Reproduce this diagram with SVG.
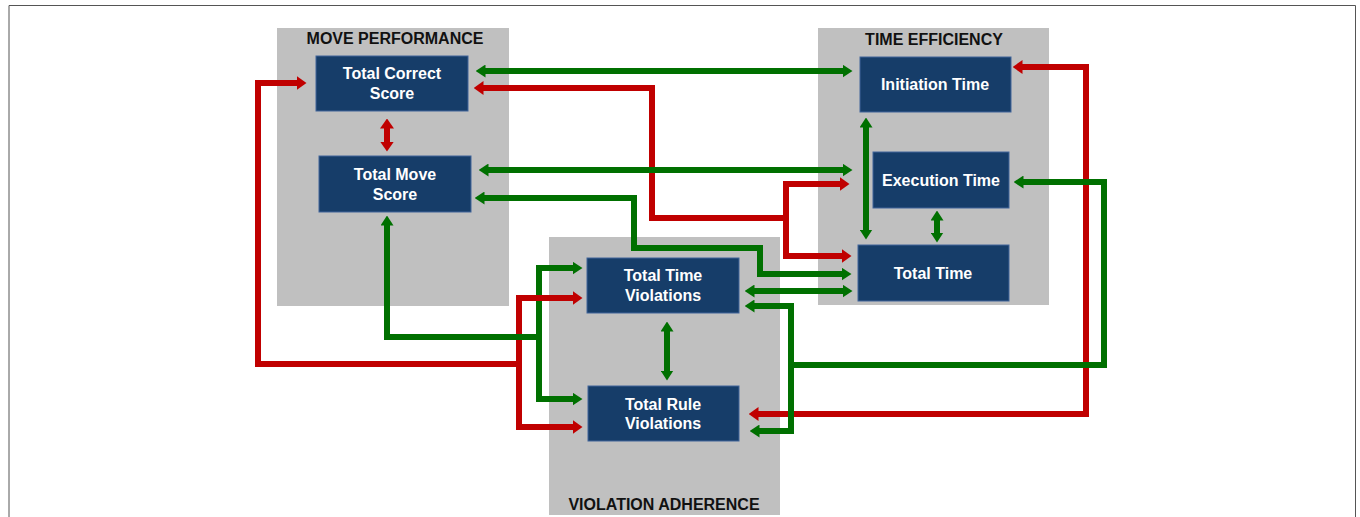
<svg xmlns="http://www.w3.org/2000/svg" width="1360" height="517" viewBox="0 0 1360 517">
<style>
.grp{fill:#c0c0c0}
.glabel{font-family:"Liberation Sans",Arial,sans-serif;font-weight:bold;font-size:16px;fill:#111;text-anchor:middle}
.node rect{fill:#163d69;stroke:#40659a;stroke-width:1}
.node text{font-family:"Liberation Sans",Arial,sans-serif;font-weight:bold;font-size:16px;fill:#fff;text-anchor:middle}
.r{fill:none;stroke:#c00000;stroke-width:6;stroke-linejoin:miter}
.g{fill:none;stroke:#007000;stroke-width:6;stroke-linejoin:miter}
.rs{marker-start:url(#ar)}.re{marker-end:url(#ar)}
.gs{marker-start:url(#ag)}.ge{marker-end:url(#ag)}
</style>
<defs>
<marker id="ar" viewBox="0 0 10 14" refX="0.5" refY="7" markerWidth="10" markerHeight="14" markerUnits="userSpaceOnUse" orient="auto-start-reverse"><path d="M0,0 L10,7 L0,14 Z" fill="#c00000"/></marker>
<marker id="ag" viewBox="0 0 10 13" refX="0.5" refY="6.5" markerWidth="10" markerHeight="13" markerUnits="userSpaceOnUse" orient="auto-start-reverse"><path d="M0,0 L10,6.5 L0,13 Z" fill="#007000"/></marker>
</defs>
<rect width="1360" height="517" fill="#fff"/>
<path d="M9,517 V5.5 H1355.5 V517" fill="none" stroke="#555" stroke-width="1"/>

<g id="group-move-performance">
<rect class="grp" x="277" y="28" width="232" height="278"/>
<text class="glabel" x="395" y="44">MOVE PERFORMANCE</text>
</g>
<g id="group-time-efficiency">
<rect class="grp" x="818" y="28" width="231" height="277"/>
<text class="glabel" x="934" y="45">TIME EFFICIENCY</text>
</g>
<g id="group-violation-adherence">
<rect class="grp" x="549" y="237" width="231" height="278"/>
<text class="glabel" x="664" y="510">VIOLATION ADHERENCE</text>
</g>

<g id="node-total-correct-score" class="node">
<rect x="316" y="56" width="152" height="55"/>
<text x="392" y="79">Total Correct</text>
<text x="392" y="99">Score</text>
</g>
<g id="node-total-move-score" class="node">
<rect x="319" y="156" width="152" height="56"/>
<text x="395" y="180">Total Move</text>
<text x="395" y="200">Score</text>
</g>
<g id="node-initiation-time" class="node">
<rect x="860" y="57" width="151" height="55"/>
<text x="935" y="90">Initiation Time</text>
</g>
<g id="node-execution-time" class="node">
<rect x="873" y="152" width="136" height="56"/>
<text x="941" y="186">Execution Time</text>
</g>
<g id="node-total-time" class="node">
<rect x="858" y="245" width="151" height="56"/>
<text x="933" y="279">Total Time</text>
</g>
<g id="node-total-time-violations" class="node">
<rect x="587" y="258" width="152" height="55"/>
<text x="663" y="281">Total Time</text>
<text x="663" y="301">Violations</text>
</g>
<g id="node-total-rule-violations" class="node">
<rect x="588" y="386" width="151" height="55"/>
<text x="663" y="410">Total Rule</text>
<text x="663" y="429">Violations</text>
</g>

<g id="connectors">
<path class="r rs" d="M483,88 H652 V218 H786"/>
<path class="r rs re" d="M840,184 H786 V256 H842"/>
<path class="r rs re" d="M387,128 V142"/>
<path class="r rs re" d="M1022,67 H1086 V414 H758"/>
<path class="g gs ge" d="M573,268 H539 V399 H573"/>
<path class="r rs" d="M297,83 H258 V364 H519"/>
<path class="r rs re" d="M573,298 H519 V427 H573"/>
<path class="g gs" d="M387,225 V337 H539"/>
<path class="g gs ge" d="M485,71 H843"/>
<path class="g gs ge" d="M488,170 H843"/>
<path class="g gs ge" d="M484,198 H634 V248 H760 V274 H842"/>
<path class="g gs ge" d="M754,291 H843"/>
<path class="g gs ge" d="M866,127 V230"/>
<path class="g gs ge" d="M937,220 V233"/>
<path class="g gs ge" d="M667,331 V371"/>
<path class="g gs" d="M1023,182 H1104 V365 H791"/>
<path class="g gs ge" d="M754,306 H791 V431 H759"/>
</g>
</svg>
